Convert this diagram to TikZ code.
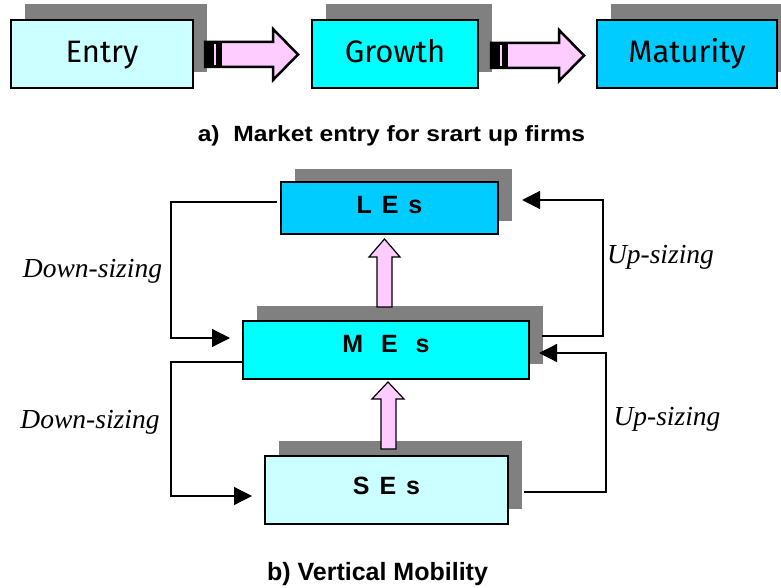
\documentclass[tikz,border=0pt]{standalone}
\usepackage{fontspec}
\usetikzlibrary{arrows.meta,shadows}
\newfontfamily\comicf{Fira Sans}
\newfontfamily\arialf{Liberation Sans}
\newfontfamily\capaf{Liberation Sans}[FakeStretch=1.12]
\newfontfamily\timesf{Liberation Serif}
\definecolor{lcyan}{HTML}{CCFFFF}
\definecolor{fcyan}{HTML}{00FFFF}
\definecolor{sky}{HTML}{00CCFF}
\definecolor{pinkf}{HTML}{FFCCFF}
\definecolor{shade}{HTML}{808080}
\begin{document}
\begin{tikzpicture}[x=1pt,y=-1pt,
  topbox/.style={draw=black, line width=1.4pt, inner sep=0pt,
    drop shadow={shadow xshift=14pt,shadow yshift=16pt,fill=shade,opacity=1},
    minimum height=68pt, text height=18pt, text depth=0pt,
    font=\comicf\fontsize{31}{36}\selectfont},
  botbox/.style={draw=black, line width=1.4pt, inner sep=0pt,
    drop shadow={shadow xshift=14pt,shadow yshift=#1,fill=shade,opacity=1},
    text depth=0pt, font=\arialf\bfseries\fontsize{25}{28}\selectfont},
  blockarrow/.style={fill=pinkf, draw=black, line join=miter},
  conn/.style={draw=black, line width=1.2pt, -{Triangle[length=18pt,width=18pt]}},
  lbl/.style={anchor=base, font=\timesf\itshape\fontsize{27.5}{30}\selectfont},
  caption/.style={anchor=base, font=\capaf\bfseries\fontsize{22}{26}\selectfont}
]
\useasboundingbox (0,0) rectangle (781,588);

% ---- a) top row
\node[topbox, fill=lcyan, minimum width=182pt] (entry) at (102,54) {Entry};
\node[topbox, fill=fcyan, minimum width=166pt] (growth) at (395,54) {Growth};
\node[topbox, fill=sky, minimum width=180pt] (mat) at (687,54) {Maturity};

\foreach \dx/\dy in {0/0, 286/1}{
  \begin{scope}[shift={(\dx,\dy)}]
    \path[blockarrow, line width=2.5pt]
      (205,42) -- (273,42) -- (273,29) -- (298,54.5) -- (273,80) -- (273,67) -- (205,67) -- cycle;
    \fill[black] (204,40.75) rectangle (222,68.25);
    \fill[pinkf] (213.5,44) rectangle (215.5,65);
  \end{scope}
}

\node[caption] (capa) at (391.5,142) {a)\ \ Market entry for srart up firms};

% ---- b) vertical mobility
\node[botbox=13pt, fill=sky, minimum width=217pt, minimum height=52pt, text height=10pt]
  (LEs) at (389.5,208) {L\hspace{3pt} E\hspace{3pt} s};
\node[botbox=15pt, fill=fcyan, minimum width=286pt, minimum height=58pt, text height=4pt]
  (MEs) at (386,350) {M\hspace{11pt} E\hspace{11pt} s};
\node[botbox=15pt, fill=lcyan, minimum width=243pt, minimum height=68pt, text height=8pt]
  (SEs) at (386.5,490) {S\hspace{3pt} E\hspace{3pt} s};

% block arrows up
\path[blockarrow, line width=1.2pt]
  (377,307) -- (377,257) -- (369,257) -- (384.5,239) -- (400,257) -- (392,257) -- (392,307) -- cycle;
\path[blockarrow, line width=1.2pt]
  (381,449) -- (381,399) -- (372,399) -- (388,382) -- (404,399) -- (396,399) -- (396,449) -- cycle;

% connectors
\coordinate (lt1) at (277,202);
\coordinate (lt2) at (230,338);
\coordinate (lb2) at (252,496);
\coordinate (rt1) at (542,336);
\coordinate (rt2) at (522,200);
\coordinate (rb2) at (539,353);
\draw[conn] (lt1) -- (171,202) -- (171,338) -- (lt2);
\draw[conn] (MEs.west |- 0,362) -- (171,362) -- (171,496) -- (lb2);
\draw[conn] (rt1) -- (603,336) -- (603,200) -- (rt2);
\draw[conn] (524,492) -- (606,492) -- (606,353) -- (rb2);

\node[lbl] (d1) at (92.5,277) {Down-sizing};
\node[lbl] (d2) at (90,428) {Down-sizing};
\node[lbl] (u1) at (660.5,263) {Up-sizing};
\node[lbl] (u2) at (667,425) {Up-sizing};

\node[caption, font=\arialf\bfseries\fontsize{25}{28}\selectfont] (capb) at (377.5,580) {b) Vertical Mobility};
\end{tikzpicture}
\end{document}
